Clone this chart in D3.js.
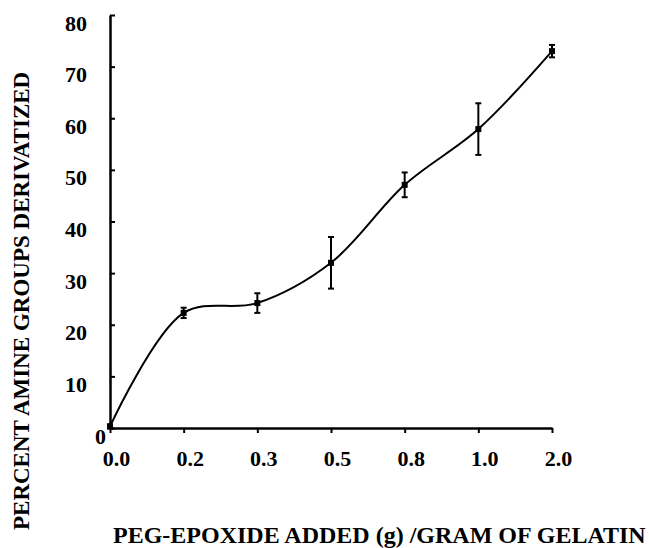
<!DOCTYPE html>
<html>
<head>
<meta charset="utf-8">
<script src="https://cdn.jsdelivr.net/npm/d3@7"></script>
<style>
  body { margin: 0; background: #fff; }
  svg text { font-family: "Liberation Serif", "Times New Roman", serif; font-weight: bold; fill: #000; }
</style>
</head>
<body>
<div id="container"></div>
<script>
/* CONSTANTS AND GLOBALS */
const width = 649,
  height = 548,
  margin = {top: 15, bottom: 120, left: 110, right: 97};

// data
const doses = ["0.0", "0.2", "0.3", "0.5", "0.8", "1.0", "2.0"];
const percent = [0.3, 22.3, 24.2, 32.0, 47.1, 57.9, 73.0];
const errors = [0.4, 1.0, 1.9, 5.0, 2.4, 5.0, 1.2];
const yTicks = [0, 10, 20, 30, 40, 50, 60, 70, 80];

const points = doses.map((d, i) => ({dose: d, value: percent[i], err: errors[i]}));

const svg = d3.select("#container")
  .append("svg")
  .attr("width", width)
  .attr("height", height);

// + SCALES
const xScale = d3.scalePoint()
  .domain(doses)
  .range([margin.left, width - margin.right]);

const yScale = d3.scaleLinear()
  .domain([0, 80])
  .range([height - margin.bottom, margin.top]);

// + AXES
const xAxis = d3.axisBottom(xScale).tickSizeInner(5).tickSizeOuter(0);
const yAxis = d3.axisLeft(yScale).tickValues(yTicks).tickSizeInner(-5).tickSizeOuter(0);

const xAxisGroup = svg.append("g")
  .attr("transform", `translate(0, ${height - margin.bottom})`)
  .call(xAxis);

const yAxisGroup = svg.append("g")
  .attr("transform", `translate(${margin.left}, 0)`)
  .call(yAxis);

xAxisGroup.select(".domain").attr("stroke-width", 2.5);
yAxisGroup.select(".domain").attr("stroke-width", 2.5);
xAxisGroup.selectAll(".tick line").attr("stroke-width", 2);
yAxisGroup.selectAll(".tick line").attr("stroke-width", 2);

xAxisGroup.selectAll(".tick text")
  .attr("font-size", 22)
  .attr("x", 6)
  .attr("y", 38)
  .attr("dy", 0);

yAxisGroup.selectAll(".tick text")
  .attr("font-size", 22)
  .attr("x", d => d === 0 ? -4 : -23)
  .attr("dy", 15);

// + LINE
const line = d3.line()
  .x(d => xScale(d.dose))
  .y(d => yScale(d.value))
  .curve(d3.curveCatmullRom.alpha(0.5));

svg.append("path")
  .datum(points)
  .attr("fill", "none")
  .attr("stroke", "#000")
  .attr("stroke-width", 2)
  .attr("d", line);

// + ERROR BARS
const bars = svg.selectAll("g.err")
  .data(points)
  .join("g")
  .attr("class", "err")
  .attr("stroke", "#000")
  .attr("stroke-width", 2);

bars.append("line")
  .attr("x1", d => xScale(d.dose))
  .attr("x2", d => xScale(d.dose))
  .attr("y1", d => yScale(d.value + d.err))
  .attr("y2", d => yScale(d.value - d.err));

bars.append("line")
  .attr("x1", d => xScale(d.dose) - 3)
  .attr("x2", d => xScale(d.dose) + 3)
  .attr("y1", d => yScale(d.value + d.err))
  .attr("y2", d => yScale(d.value + d.err));

bars.append("line")
  .attr("x1", d => xScale(d.dose) - 3)
  .attr("x2", d => xScale(d.dose) + 3)
  .attr("y1", d => yScale(d.value - d.err))
  .attr("y2", d => yScale(d.value - d.err));

// + MARKERS
svg.selectAll("rect.marker")
  .data(points)
  .join("rect")
  .attr("class", "marker")
  .attr("x", d => xScale(d.dose) - 3)
  .attr("y", d => yScale(d.value) - 3)
  .attr("width", 6)
  .attr("height", 6)
  .attr("fill", "#000");

// + AXIS TITLES
svg.append("text")
  .attr("x", 113)
  .attr("y", 543)
  .attr("font-size", 24)
  .text("PEG-EPOXIDE ADDED (g) /GRAM OF GELATIN");

svg.append("text")
  .attr("transform", "translate(29, 530) rotate(-90)")
  .attr("font-size", 23)
  .text("PERCENT AMINE GROUPS DERIVATIZED");
</script>
</body>
</html>
